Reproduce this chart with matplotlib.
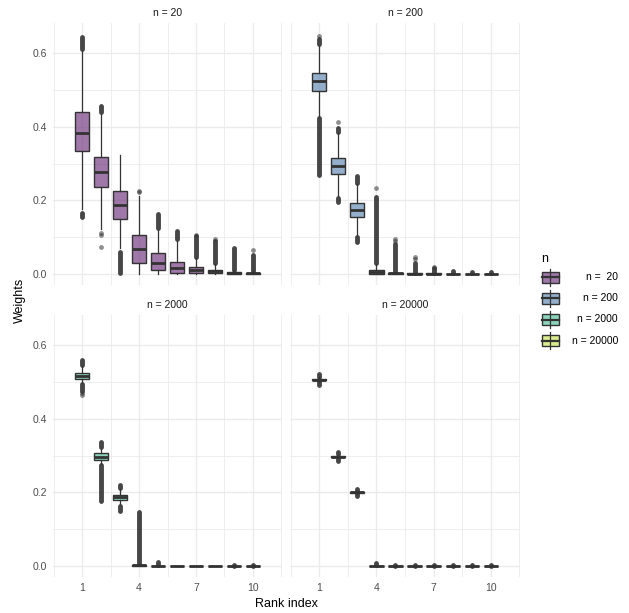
import matplotlib
matplotlib.use("Agg")
import matplotlib.pyplot as plt
from matplotlib.patches import Rectangle

plt.rcParams["font.family"] = ["Liberation Sans", "DejaVu Sans"]

ranks = list(range(1, 11))
panel_ns = [20, 200, 2000, 20000]
legend_labels = ["n =  20", "n = 200", "n = 2000", "n = 20000"]
fill_colors = ["#763E84", "#658DB5", "#58C39F", "#C9E45F"]
x_ticks = [1, 4, 7, 10]

# box statistics, one list per n
q1_20 = [0.335, 0.237, 0.150, 0.029, 0.009, 0.003, 0.002, 0.001, 0.000, 0.000]
med_20 = [0.384, 0.276, 0.186, 0.066, 0.029, 0.015, 0.009, 0.006, 0.002, 0.001]
q3_20 = [0.441, 0.318, 0.225, 0.105, 0.056, 0.032, 0.018, 0.011, 0.004, 0.003]
wlo_20 = [0.175, 0.121, 0.070, 0.000, 0.000, 0.000, 0.000, 0.000, 0.000, 0.000]
whi_20 = [0.607, 0.436, 0.324, 0.211, 0.120, 0.090, 0.042, 0.026, 0.009, 0.006]

q1_200 = [0.497, 0.272, 0.153, 0.000, 0.000, 0.000, 0.000, 0.000, 0.000, 0.000]
med_200 = [0.524, 0.294, 0.174, 0.004, 0.0005, 0.0002, 0.0001, 0.0, 0.0, 0.0]
q3_200 = [0.547, 0.314, 0.192, 0.011, 0.002, 0.001, 0.0005, 0.0003, 0.0002, 0.0001]
wlo_200 = [0.427, 0.211, 0.102, 0.000, 0.000, 0.000, 0.000, 0.000, 0.000, 0.000]
whi_200 = [0.621, 0.382, 0.243, 0.027, 0.005, 0.002, 0.001, 0.001, 0.0005, 0.0003]

q1_2000 = [0.509, 0.289, 0.179, 0.000, 0.000, 0.000, 0.000, 0.000, 0.000, 0.000]
med_2000 = [0.518, 0.297, 0.187, 0.0005, 0.0, 0.0, 0.0, 0.0, 0.0, 0.0]
q3_2000 = [0.526, 0.306, 0.193, 0.002, 0.0002, 0.0001, 0.0, 0.0, 0.0, 0.0]
wlo_2000 = [0.499, 0.277, 0.168, 0.000, 0.000, 0.000, 0.000, 0.000, 0.000, 0.000]
whi_2000 = [0.544, 0.318, 0.209, 0.004, 0.0005, 0.0002, 0.0001, 0.0001, 0.0, 0.0]

q1_20000 = [0.505, 0.295, 0.198, 0.0, 0.0, 0.0, 0.0, 0.0, 0.0, 0.0]
med_20000 = [0.507, 0.297, 0.1995, 0.0, 0.0, 0.0, 0.0, 0.0, 0.0, 0.0]
q3_20000 = [0.509, 0.299, 0.201, 0.0002, 0.0, 0.0, 0.0, 0.0, 0.0, 0.0]
wlo_20000 = [0.501, 0.292, 0.196, 0.0, 0.0, 0.0, 0.0, 0.0, 0.0, 0.0]
whi_20000 = [0.513, 0.302, 0.203, 0.0005, 0.0, 0.0, 0.0, 0.0, 0.0, 0.0]

# dense runs of outliers (rank, low, high) and single outlier points (rank, value)
runs_20 = [(1, 0.612, 0.645), (1, 0.153, 0.166), (2, 0.441, 0.458), (3, 0.002, 0.060),
           (5, 0.124, 0.162), (6, 0.093, 0.116), (7, 0.045, 0.103), (8, 0.029, 0.090),
           (9, 0.011, 0.070), (10, 0.008, 0.050)]
dots_20 = [(2, 0.111), (2, 0.106), (2, 0.072), (4, 0.222), (4, 0.226), (10, 0.065),
           (8, 0.093), (7, 0.104)]
runs_200 = [(1, 0.625, 0.640), (1, 0.270, 0.423), (2, 0.386, 0.398), (2, 0.195, 0.207),
            (3, 0.247, 0.265), (3, 0.085, 0.100), (4, 0.028, 0.208), (5, 0.006, 0.080),
            (6, 0.003, 0.030), (7, 0.002, 0.014), (8, 0.001, 0.008), (9, 0.001, 0.005),
            (10, 0.001, 0.004)]
dots_200 = [(1, 0.648), (2, 0.414), (4, 0.232), (5, 0.088), (5, 0.094), (6, 0.040),
            (6, 0.045), (7, 0.018)]
runs_2000 = [(1, 0.548, 0.560), (1, 0.475, 0.495), (2, 0.322, 0.336), (2, 0.175, 0.275),
             (3, 0.211, 0.219), (3, 0.150, 0.162), (4, 0.005, 0.146), (5, 0.002, 0.010),
             (6, 0.001, 0.003), (7, 0.0005, 0.002), (8, 0.0005, 0.002), (9, 0.0, 0.001),
             (10, 0.0, 0.001)]
dots_2000 = [(1, 0.466), (1, 0.470)]
runs_20000 = [(1, 0.514, 0.522), (1, 0.492, 0.500), (2, 0.303, 0.309), (2, 0.285, 0.291),
              (3, 0.204, 0.209), (3, 0.190, 0.195), (4, 0.001, 0.007), (5, 0.0, 0.001),
              (6, 0.0, 0.001), (7, 0.0, 0.001), (8, 0.0, 0.001), (9, 0.0, 0.001),
              (10, 0.0, 0.001)]
dots_20000 = []

stats = {
    20: (q1_20, med_20, q3_20, wlo_20, whi_20, runs_20, dots_20),
    200: (q1_200, med_200, q3_200, wlo_200, whi_200, runs_200, dots_200),
    2000: (q1_2000, med_2000, q3_2000, wlo_2000, whi_2000, runs_2000, dots_2000),
    20000: (q1_20000, med_20000, q3_20000, wlo_20000, whi_20000, runs_20000, dots_20000),
}

DARK = "#333333"
GRID = "#EBEBEB"

fig = plt.figure(figsize=(6.29, 6.13), dpi=100)
W, H = 629, 613
panel_px = [(53, 23, 282, 285), (290, 23, 520, 285), (53, 315, 282, 577), (290, 315, 520, 577)]

for i, n in enumerate(panel_ns):
    x0, y0, x1, y1 = panel_px[i]
    ax = fig.add_axes([x0 / W, 1 - y1 / H, (x1 - x0) / W, (y1 - y0) / H])
    q1, med, q3, wlo, whi, runs, dots = stats[n]

    for r, lo, hi in runs:
        ax.plot([r, r], [lo, hi], color=DARK, lw=3.5, alpha=0.9,
                solid_capstyle="round", zorder=2)
    if dots:
        ax.scatter([d[0] for d in dots], [d[1] for d in dots], s=12, color=DARK,
                   alpha=0.55, lw=0, zorder=2)

    bstats = [dict(q1=q1[k], med=med[k], q3=q3[k], whislo=wlo[k], whishi=whi[k], fliers=[])
              for k in range(len(ranks))]
    ax.bxp(bstats, positions=ranks, widths=0.75, patch_artist=True, showcaps=False,
           boxprops=dict(facecolor=fill_colors[i], edgecolor=DARK, lw=1.0),
           medianprops=dict(color=DARK, lw=2.0),
           whiskerprops=dict(color=DARK, lw=0.9), manage_ticks=False, zorder=3)
    for p in ax.patches:
        fc = p.get_facecolor()
        p.set_facecolor((fc[0], fc[1], fc[2], 0.7))

    ax.set_xlim(-0.53, 11.53)
    ax.set_ylim(-0.031, 0.683)
    ax.set_xticks(x_ticks)
    ax.set_xticks([-0.5, 2.5, 5.5, 8.5, 11.5], minor=True)
    ax.set_yticks([0.0, 0.2, 0.4, 0.6])
    ax.set_yticks([0.1, 0.3, 0.5], minor=True)
    ax.grid(True, which="major", color=GRID, lw=1.0, zorder=0)
    ax.grid(True, which="minor", color=GRID, lw=0.6, zorder=0)
    ax.set_axisbelow(True)
    for s in ax.spines.values():
        s.set_visible(False)
    ax.tick_params(which="both", length=0, labelsize=7.5, labelcolor="#4D4D4D", pad=4.5)
    if i % 2 == 0:
        ax.set_yticklabels(["0.0", "0.2", "0.4", "0.6"])
    else:
        ax.set_yticklabels([])
    if i >= 2:
        ax.set_xticklabels([str(t) for t in x_ticks])
    else:
        ax.set_xticklabels([])
    ax.set_title(f"n = {n}", fontsize=7.5, color="#1A1A1A", pad=5)

fig.text(20 / W, 1 - 300 / H, "Weights", rotation=90, ha="center", va="center",
         fontsize=9, color="black")
fig.text(286 / W, 1 - 604 / H, "Rank index", ha="center", va="center",
         fontsize=9, color="black")

# legend
lg = fig.add_axes([0, 0, 1, 1])
lg.set_xlim(0, W)
lg.set_ylim(H, 0)
lg.axis("off")
lg.text(541, 259, "n", fontsize=9, ha="left", va="center", color="black")
key_y = [277, 298, 319.5, 340.5]
for c, lab, yc in zip(fill_colors, legend_labels, key_y):
    lg.plot([550, 550], [yc - 8.5, yc + 8.5], color=DARK, lw=0.9)
    lg.add_patch(Rectangle((541.5, yc - 5.5), 17, 11, facecolor=c, alpha=0.7, lw=0))
    lg.add_patch(Rectangle((541.5, yc - 5.5), 17, 11, facecolor="none", edgecolor=DARK, lw=1.0))
    lg.plot([541.5, 558.5], [yc, yc], color=DARK, lw=1.6)
    lg.text(618, yc, lab, fontsize=7.5, ha="right", va="center", color="black")

fig.savefig("out.png", dpi=100)
